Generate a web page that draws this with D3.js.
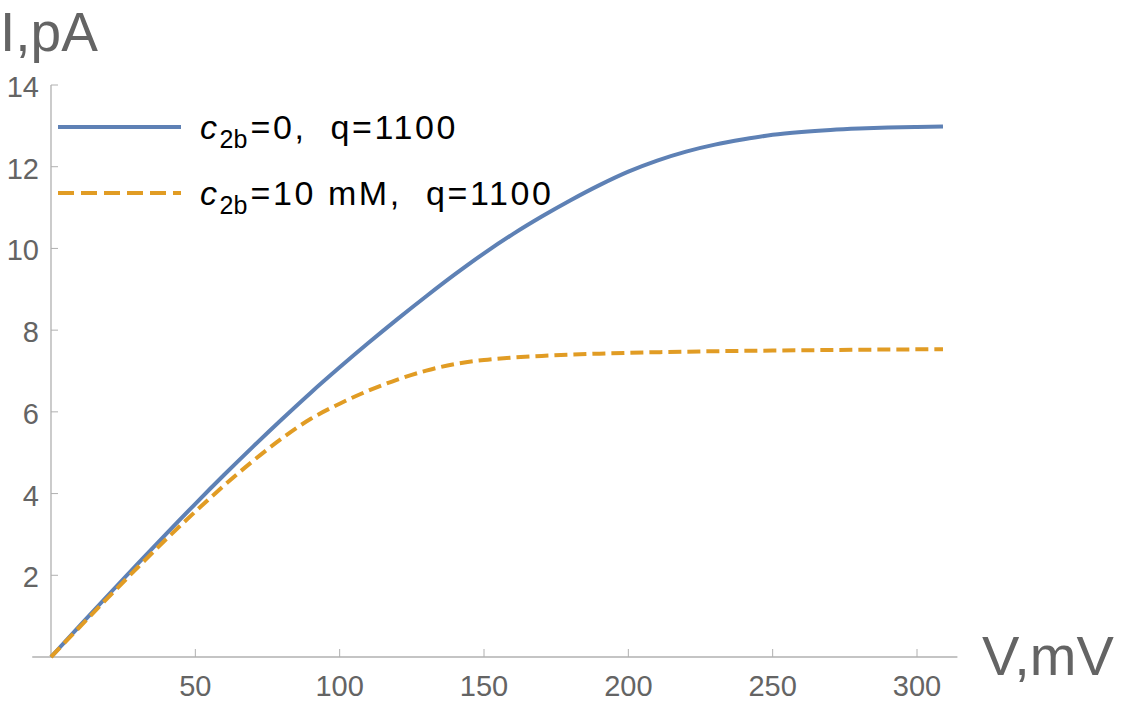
<!DOCTYPE html>
<html>
<head>
<meta charset="utf-8">
<script src="https://cdn.jsdelivr.net/npm/d3@7"></script>
<style>
  body { margin: 0; background: #fff; }
  svg { display: block; font-family: "Liberation Sans", Arial, sans-serif; }
</style>
</head>
<body>
<div id="chart"></div>
<script>
// data
const voltage = [0, 10, 20, 30, 40, 50, 60, 70, 80, 90, 100, 110, 120, 130, 140, 150, 160, 170, 180, 190,
                 200, 210, 220, 230, 240, 250, 260, 270, 280, 290, 300, 309]
const currentNoC2b = [0, 0.77, 1.53, 2.28, 3.02, 3.75, 4.46, 5.15, 5.82, 6.47, 7.09, 7.69, 8.27, 8.83, 9.37, 9.88,
                      10.35, 10.78, 11.18, 11.55, 11.88, 12.15, 12.37, 12.54, 12.67, 12.78, 12.85, 12.9, 12.935, 12.96, 12.975, 12.985]
const currentC2b10 = [0, 0.74, 1.47, 2.19, 2.89, 3.56, 4.2, 4.8, 5.35, 5.83, 6.2, 6.52, 6.79, 7.01, 7.17, 7.27,
                      7.33, 7.37, 7.4, 7.425, 7.445, 7.46, 7.473, 7.484, 7.493, 7.501, 7.508, 7.514, 7.52, 7.525, 7.53, 7.534]
const xTicks = [50, 100, 150, 200, 250, 300]
const yTicks = [2, 4, 6, 8, 10, 12, 14]

const series = [
  {main: "=0,  q=1100", values: currentNoC2b, color: "#5e81b5", dash: null, legendDash: null},
  {main: "=10 mM,  q=1100", values: currentC2b10, color: "#e19c24", dash: "13,6", legendDash: "16,7"}
]

const width = 1125
const height = 707
const axisColor = "#b0b0b0"
const textColor = "#646464"

const svg = d3.select("#chart").append("svg")
  .attr("width", width)
  .attr("height", height)

// scales
const xScale = d3.scaleLinear().domain([0, 300]).range([51, 917])
const yScale = d3.scaleLinear().domain([0, 14]).range([657, 85])

// axes lines
svg.append("line")
  .attr("x1", xScale(-6.5)).attr("x2", xScale(314))
  .attr("y1", yScale(0)).attr("y2", yScale(0))
  .attr("stroke", axisColor).attr("stroke-width", 1.3)

svg.append("line")
  .attr("x1", xScale(0)).attr("x2", xScale(0))
  .attr("y1", yScale(0)).attr("y2", yScale(14))
  .attr("stroke", axisColor).attr("stroke-width", 1.3)

// x ticks
const xt = svg.append("g")
xt.selectAll("line").data(xTicks).join("line")
  .attr("x1", d => xScale(d)).attr("x2", d => xScale(d))
  .attr("y1", yScale(0)).attr("y2", yScale(0) - 8)
  .attr("stroke", axisColor).attr("stroke-width", 1)
xt.selectAll("text").data(xTicks).join("text")
  .attr("x", d => xScale(d))
  .attr("y", yScale(0) + 39)
  .attr("text-anchor", "middle")
  .attr("font-size", 29)
  .attr("fill", textColor)
  .text(d => d)

// y ticks
const yt = svg.append("g")
yt.selectAll("line").data(yTicks).join("line")
  .attr("x1", xScale(0)).attr("x2", xScale(0) + 7)
  .attr("y1", d => yScale(d)).attr("y2", d => yScale(d))
  .attr("stroke", axisColor).attr("stroke-width", 1)
yt.selectAll("text").data(yTicks).join("text")
  .attr("x", xScale(0) - 12)
  .attr("y", d => yScale(d) + 12)
  .attr("text-anchor", "end")
  .attr("font-size", 29)
  .attr("fill", textColor)
  .text(d => d)

// axis labels
svg.append("text")
  .attr("x", 0).attr("y", 51)
  .attr("font-size", 55)
  .attr("fill", textColor)
  .text("I,pA")

svg.append("text")
  .attr("x", 982).attr("y", 675)
  .attr("font-size", 56)
  .attr("fill", textColor)
  .text("V,mV")

// curves
const line = d3.line()
  .x((d, i) => xScale(voltage[i]))
  .y(d => yScale(d))
  .curve(d3.curveMonotoneX)

svg.selectAll("path.curve").data(series).join("path")
  .attr("class", "curve")
  .attr("d", d => line(d.values))
  .attr("fill", "none")
  .attr("stroke", d => d.color)
  .attr("stroke-width", 4)
  .attr("stroke-dasharray", d => d.dash)

// legend
const legend = svg.append("g")
const rows = legend.selectAll("g").data(series).join("g")
  .attr("transform", (d, i) => `translate(0, ${127 + i * 66})`)

rows.append("line")
  .attr("x1", 58).attr("x2", 181)
  .attr("y1", 0).attr("y2", 0)
  .attr("stroke", d => d.color)
  .attr("stroke-width", 4)
  .attr("stroke-dasharray", d => d.legendDash)

const label = rows.append("text")
  .attr("x", 200).attr("y", 12)
  .attr("font-size", 34)
  .attr("letter-spacing", 2.6)
  .attr("fill", "#000")
  .style("white-space", "pre")
label.append("tspan").attr("font-style", "italic").text("c")
label.append("tspan").attr("font-size", 25).attr("dy", 9).attr("letter-spacing", 0).text("2b")
label.append("tspan").attr("dy", -9).attr("dx", 3).text(d => d.main)
</script>
</body>
</html>
